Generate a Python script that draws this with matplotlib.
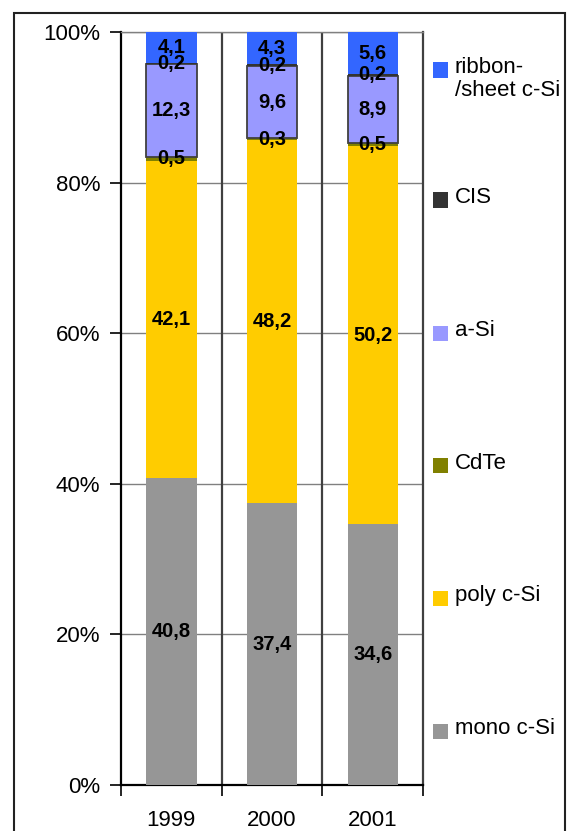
import matplotlib.pyplot as plt
from matplotlib.patches import Rectangle

plt.rcParams['font.family'] = ['Liberation Sans', 'DejaVu Sans']

years = ["1999", "2000", "2001"]

# market shares (%) per technology, bottom to top
mono = [40.8, 37.4, 34.6]
poly = [42.1, 48.2, 50.2]
cdte = [0.5, 0.3, 0.5]
asi = [12.3, 9.6, 8.9]
cis = [0.2, 0.2, 0.2]
ribbon = [4.1, 4.3, 5.6]

series = [mono, poly, cdte, asi, cis, ribbon]
names = ["mono c-Si", "poly c-Si", "CdTe", "a-Si", "CIS", "ribbon-\n/sheet c-Si"]
colors = ["#969696", "#FFCC00", "#808000", "#9999FF", "#333333", "#3366FF"]

fig = plt.figure(figsize=(5.69, 8.31), dpi=100)
ax = fig.add_axes([121 / 569, 1 - 785 / 831, 302 / 569, 753 / 831])

x = range(len(years))
bottoms = [0.0] * len(years)
for vals, name, col in zip(series, names, colors):
    edge = "#404040" if name == "a-Si" else "none"
    ax.bar(x, vals, width=0.5, bottom=bottoms, color=col, edgecolor=edge,
           linewidth=1.3 if name == "a-Si" else 0, zorder=3)
    for i, v in enumerate(vals):
        ax.text(i, bottoms[i] + v / 2, f"{v:.1f}".replace(".", ","),
                ha="center", va="center", fontsize=14.5, fontweight="bold",
                color="black", zorder=4)
    bottoms = [b + v for b, v in zip(bottoms, vals)]

ax.set_xlim(-0.5, 2.5)
ax.set_ylim(0, 100)
ax.set_yticks(range(0, 101, 20))
ax.set_yticklabels([f"{t}%" for t in range(0, 101, 20)])
ax.tick_params(axis="y", direction="out", length=8, width=1.2, pad=7,
               labelsize=16, color="black")

# category boundaries carry the ticks, labels sit under the bars
ax.set_xticks([-0.5, 0.5, 1.5, 2.5])
ax.set_xticklabels([])
ax.set_xticks(list(x), minor=True)
ax.set_xticklabels(years, minor=True)
ax.tick_params(axis="x", which="major", direction="out", length=8, width=1.2,
               color="black")
ax.tick_params(axis="x", which="minor", length=0, pad=18, labelsize=16)

for t in range(20, 101, 20):
    ax.axhline(t, color="#808080", linewidth=1, zorder=1)
for b in [0.5, 1.5]:
    ax.axvline(b, color="#404040", linewidth=1.6, zorder=1)

ax.spines["left"].set_linewidth(1.6)
ax.spines["bottom"].set_linewidth(1.6)
ax.spines["top"].set_color("#808080")
ax.spines["top"].set_linewidth(1)
ax.spines["right"].set_color("#404040")
ax.spines["right"].set_linewidth(1.6)

# legend on the right, top entry first
legend_y = [731, 598, 466, 333, 200, 70]
for name, col, yp in zip(names, colors, legend_y):
    fig.patches.append(Rectangle((433 / 569, 1 - (yp + 7.5) / 831), 15 / 569, 15 / 831,
                                 transform=fig.transFigure, facecolor=col,
                                 edgecolor="none"))
    fig.text(455 / 569, 1 - (yp - 13) / 831, name, fontsize=16, ha="left",
             va="top", linespacing=1.1)

# outer border of the chart area
fig.patches.append(Rectangle((14 / 569, -0.05), 551 / 569, 1.05 - 13 / 831,
                             transform=fig.transFigure, facecolor="none",
                             edgecolor="#222222", linewidth=1.5))

fig.savefig("out.png", dpi=100)
